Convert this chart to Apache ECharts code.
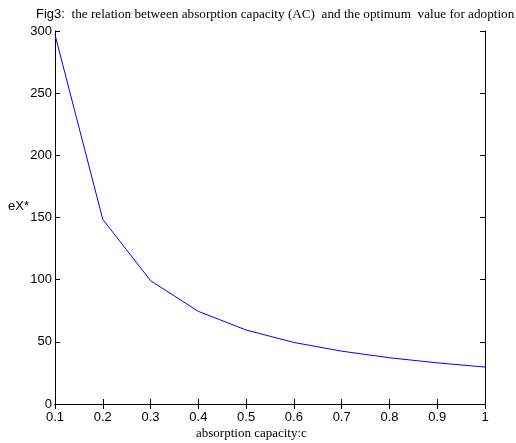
<!DOCTYPE html>
<html>
<head>
<meta charset="utf-8">
<script src="https://cdn.jsdelivr.net/npm/echarts@6/dist/echarts.min.js"></script>
<style>
  html, body { margin: 0; padding: 0; background: #fff; }
  #chart { width: 516px; height: 443px; }
</style>
</head>
<body>
<div id="chart"></div>
<script>
// absorption capacity c and the optimum adoption value eX*
const capacity = [0.1, 0.2, 0.3, 0.4, 0.5, 0.6, 0.7, 0.8, 0.9, 1.0];
const optimum = [297, 148.5, 99.2, 74.5, 59.5, 49.5, 42.5, 37.2, 33.1, 29.7];

const serif = '"Liberation Serif", "Times New Roman", serif';
const sans = '"Liberation Sans", Arial, sans-serif';

const chart = echarts.init(document.getElementById('chart'), null, { renderer: 'canvas' });

const tickLabel = { color: '#000', fontFamily: sans, fontSize: 13 };
const axisLine = { show: true, lineStyle: { color: '#000', width: 1 } };
const tick = { show: true, inside: true, length: 5, lineStyle: { color: '#000', width: 1 } };

chart.setOption({
  animation: false,
  backgroundColor: '#fff',
  title: {
    text: '{a|Fig3:}{b|  the relation between absorption capacity (AC)  and the optimum  value for adoption}',
    left: 31,
    top: 3,
    textStyle: {
      fontWeight: 'normal',
      rich: {
        a: { fontFamily: sans, fontSize: 13, fontWeight: 'normal', color: '#000' },
        b: { fontFamily: serif, fontSize: 13.2, fontWeight: 'normal', color: '#000' }
      }
    }
  },
  grid: { left: 55, right: 31, top: 31, bottom: 39, containLabel: false },
  xAxis: [
    {
      type: 'value', min: 0.1, max: 1, interval: 0.1,
      axisLine: axisLine, axisTick: tick, splitLine: { show: false },
      axisLabel: {
        ...tickLabel, margin: 7,
        formatter: v => String(Math.round(v * 10) / 10)
      }
    },
    {
      type: 'value', position: 'top', min: 0.1, max: 1, interval: 0.1,
      axisLine: axisLine, axisTick: tick, splitLine: { show: false },
      axisLabel: { show: false }
    }
  ],
  yAxis: [
    {
      type: 'value', min: 0, max: 300, interval: 50,
      axisLine: axisLine, axisTick: tick, splitLine: { show: false },
      axisLabel: { ...tickLabel, margin: 3 }
    },
    {
      type: 'value', position: 'right', min: 0, max: 300, interval: 50,
      axisLine: axisLine, axisTick: tick, splitLine: { show: false },
      axisLabel: { show: false }
    }
  ],
  graphic: [
    {
      type: 'text', left: 8, top: 200,
      style: { text: 'eX*', fontFamily: sans, fontSize: 13, fill: '#000' }
    },
    {
      type: 'text', left: 196, top: 427,
      style: { text: 'absorption capacity:c', fontFamily: serif, fontSize: 13, fill: '#000' }
    }
  ],
  series: [
    {
      type: 'line',
      data: capacity.map((c, i) => [c, optimum[i]]),
      showSymbol: false,
      lineStyle: { color: '#0000ff', width: 1 },
      xAxisIndex: 0, yAxisIndex: 0
    }
  ]
});
</script>
</body>
</html>
